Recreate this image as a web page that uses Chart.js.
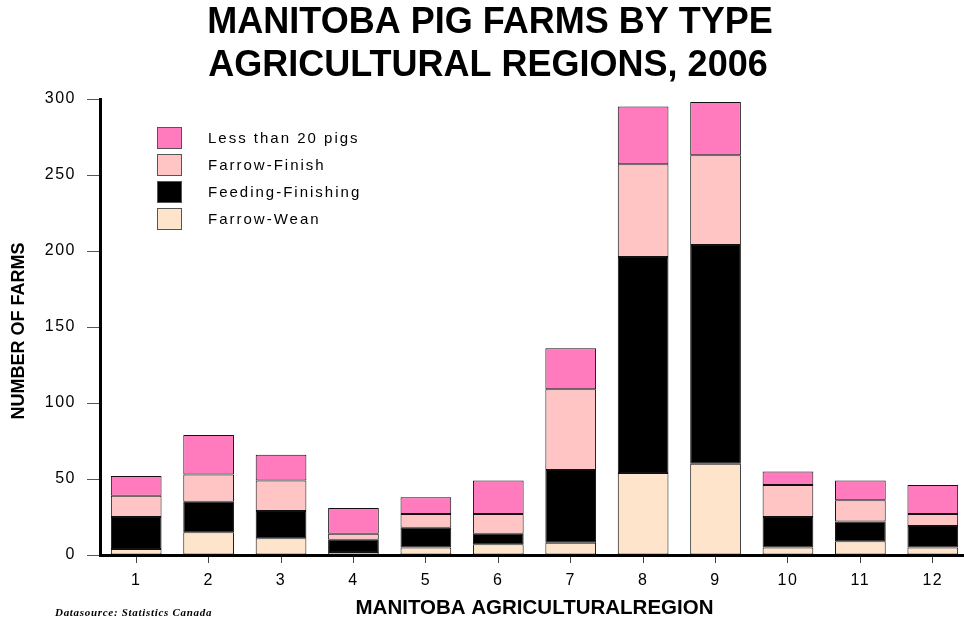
<!DOCTYPE html>
<html>
<head>
<meta charset="utf-8">
<title>Manitoba Pig Farms by Type</title>
<script src="https://cdn.jsdelivr.net/npm/chart.js@4"></script>
<style>
    html, body { margin: 0; padding: 0; background: #fff; overflow: hidden; }
    #wrap { width: 975px; height: 618px; }
</style>
</head>
<body>
<div id="wrap"><canvas id="pigChart" width="975" height="618"></canvas></div>
<script>
// Donnees (nombre de fermes par region)
const regions = ['1', '2', '3', '4', '5', '6', '7', '8', '9', '10', '11', '12'];
const farrowWean = [4, 15, 11, 2, 5, 7, 8, 54, 60, 5, 9, 5];
const feedingFinishing = [21, 20, 18, 8, 13, 7, 48, 142, 144, 20, 13, 14];
const farrowFinish = [14, 18, 20, 4, 9, 13, 53, 61, 59, 21, 14, 8];
const lessThan20 = [13, 26, 17, 17, 11, 22, 27, 38, 35, 9, 13, 19];
const yTicks = [0, 50, 100, 150, 200, 250, 300];

const titleLines = ['MANITOBA PIG FARMS BY TYPE', 'AGRICULTURAL REGIONS, 2006'];
const yTitle = 'NUMBER OF FARMS';
const xTitle = 'MANITOBA AGRICULTURALREGION';
const sourceNote = 'Datasource: Statistics Canada';

const FONT = "'Liberation Sans', Arial, sans-serif";

function spacing(ctx, px) {
    if ('letterSpacing' in ctx) ctx.letterSpacing = px;
}

// Espacement des lettres pour les graduations des axes
const tickSpacing = {
    id: 'tickSpacing',
    beforeDraw(chart) { spacing(chart.ctx, '1.5px'); },
    beforeDatasetsDraw(chart) { spacing(chart.ctx, '0px'); }
};

// Titres, legende et note de source dessines a la main
const decorations = {
    id: 'decorations',
    afterDraw(chart) {
        const ctx = chart.ctx;
        const area = chart.chartArea;
        ctx.save();
        ctx.fillStyle = '#000';
        spacing(ctx, '0px');

        // Titre principal
        ctx.font = 'bold 36px ' + FONT;
        ctx.textAlign = 'center';
        ctx.textBaseline = 'alphabetic';
        ctx.fillText(titleLines[0], 490, 33);
        ctx.fillText(titleLines[1], 488, 76);

        // Titre de l'axe X
        ctx.font = 'bold 20.5px ' + FONT;
        ctx.fillText(xTitle, (area.left + area.right) / 2, 614);

        // Titre de l'axe Y (vertical)
        ctx.save();
        ctx.translate(24, 331);
        ctx.rotate(-Math.PI / 2);
        ctx.font = 'bold 18px ' + FONT;
        ctx.fillText(yTitle, 0, 0);
        ctx.restore();

        // Source
        ctx.font = "italic bold 11px 'Liberation Serif', 'Times New Roman', serif";
        ctx.textAlign = 'left';
        spacing(ctx, '0.7px');
        ctx.fillText(sourceNote, 55, 616);

        // Legende (ordre inverse: haut de la pile en premier)
        const sets = chart.data.datasets.slice().reverse();
        ctx.font = '15px ' + FONT;
        spacing(ctx, '2px');
        ctx.textBaseline = 'middle';
        sets.forEach((ds, i) => {
            const top = 127 + i * 27;
            ctx.fillStyle = ds.backgroundColor;
            ctx.fillRect(157, top, 25, 22);
            ctx.strokeStyle = '#555';
            ctx.lineWidth = 1;
            ctx.strokeRect(157.5, top + 0.5, 24, 21);
            ctx.fillStyle = '#000';
            ctx.fillText(ds.label, 208, top + 12);
        });
        ctx.restore();
    }
};

const barStyle = {
    borderColor: '#111',
    borderWidth: 1,
    borderSkipped: false,
    barPercentage: 0.7,
    categoryPercentage: 1.0
};

const ctx = document.getElementById('pigChart').getContext('2d');
new Chart(ctx, {
    type: 'bar',
    data: {
        labels: regions,
        datasets: [
            { label: 'Farrow-Wean', data: farrowWean, backgroundColor: '#FFE4CC', ...barStyle },
            { label: 'Feeding-Finishing', data: feedingFinishing, backgroundColor: '#000000', ...barStyle },
            { label: 'Farrow-Finish', data: farrowFinish, backgroundColor: '#FFC4C4', ...barStyle },
            { label: 'Less than 20 pigs', data: lessThan20, backgroundColor: '#FF7BBD', ...barStyle }
        ]
    },
    options: {
        responsive: false,
        animation: false,
        layout: { padding: { top: 99, right: 6, left: 0, bottom: 0 } },
        plugins: {
            legend: { display: false },
            title: { display: false },
            tooltip: { enabled: false }
        },
        scales: {
            x: {
                stacked: true,
                grid: {
                    offset: false,
                    drawOnChartArea: false,
                    tickLength: 8,
                    tickColor: '#444',
                    tickWidth: 1
                },
                border: { display: true, color: '#000', width: 3 },
                ticks: {
                    color: '#000',
                    padding: 8,
                    maxRotation: 0,
                    font: { family: FONT, size: 16 }
                },
                afterFit(scale) { scale.height = 63; }
            },
            y: {
                stacked: true,
                min: 0,
                max: 300,
                afterBuildTicks(scale) { scale.ticks = yTicks.map(v => ({ value: v })); },
                grid: {
                    drawOnChartArea: false,
                    tickLength: 13,
                    tickColor: '#555',
                    tickWidth: 1
                },
                border: { display: true, color: '#000', width: 3 },
                ticks: {
                    color: '#000',
                    padding: 11,
                    font: { family: FONT, size: 16 }
                },
                afterFit(scale) { scale.width = 100; }
            }
        }
    },
    plugins: [tickSpacing, decorations]
});
</script>
</body>
</html>
